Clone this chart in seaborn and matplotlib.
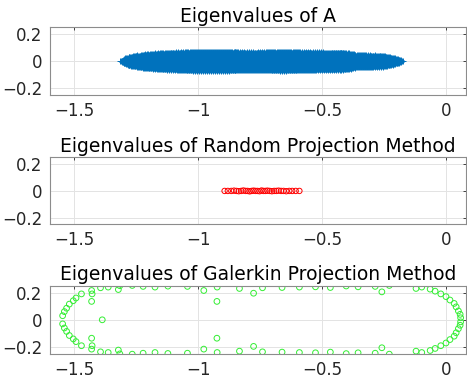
import numpy as np
import pandas as pd
import matplotlib
matplotlib.use('Agg')
import matplotlib.pyplot as plt
import seaborn as sns

# Eigenvalues of A: a dense cloud, described by its outline
# (real part, half-width of the imaginary spread)
cloud_re = [-1.317, -1.300, -1.274, -1.220, -1.153, -1.020, -0.884, -0.790,
            -0.655, -0.521, -0.413, -0.380, -0.359, -0.319, -0.252, -0.211,
            -0.185, -0.172]
cloud_im = [0.000, 0.018, 0.033, 0.050, 0.060, 0.070, 0.070, 0.065,
            0.070, 0.065, 0.063, 0.056, 0.045, 0.045, 0.040, 0.025,
            0.010, 0.000]

# Eigenvalues of the random projection method (all near the real axis)
rand_re = [-0.893, -0.880, -0.866, -0.855, -0.845, -0.836, -0.826, -0.817,
           -0.808, -0.800, -0.792, -0.784, -0.776, -0.768, -0.760, -0.752,
           -0.744, -0.736, -0.728, -0.720, -0.711, -0.702, -0.693, -0.684,
           -0.675, -0.665, -0.655, -0.644, -0.632, -0.620, -0.606, -0.591]
rand_im = [0.000, 0.000, 0.000, 0.002, 0.000, -0.002, 0.000, 0.003,
           0.000, 0.000, -0.003, 0.000, 0.002, 0.000, 0.000, -0.002,
           0.003, 0.000, 0.000, 0.002, 0.000, -0.002, 0.000, 0.000,
           0.002, 0.000, 0.000, -0.002, 0.000, 0.000, 0.000, 0.000]

# Eigenvalues of the Galerkin projection method: real ones, then the upper
# half of the conjugate pairs
gal_real = [-1.387]
gal_pair_re = [-1.547, -1.540, -1.531, -1.520, -1.504, -1.493, -1.471,
               -1.430, -1.428, -1.430, -1.394, -1.363, -1.322, -1.316,
               -1.266, -1.222, -1.174, -1.122, -1.043, -0.977, -0.923,
               -0.924, -0.833, -0.776, -0.740, -0.661, -0.591, -0.526,
               -0.466, -0.402, -0.354, -0.285, -0.258, -0.228, -0.120,
               -0.097, -0.063, -0.043, -0.020, 0.001, 0.017, 0.034,
               0.042, 0.051, 0.058, 0.060]
gal_pair_im = [0.030, 0.060, 0.085, 0.115, 0.140, 0.160, 0.190,
               0.215, 0.190, 0.135, 0.235, 0.240, 0.222, 0.250,
               0.252, 0.245, 0.240, 0.247, 0.245, 0.215, 0.240,
               0.135, 0.230, 0.195, 0.235, 0.237, 0.240, 0.242,
               0.237, 0.248, 0.242, 0.245, 0.205, 0.252, 0.230,
               0.240, 0.225, 0.210, 0.190, 0.170, 0.145, 0.120,
               0.095, 0.065, 0.040, 0.015]

titles = ['Eigenvalues of A',
          'Eigenvalues of Random Projection Method',
          'Eigenvalues of Galerkin Projection Method']

# Fill the outline of A's spectrum with a regular lattice of points
col_re = np.arange(cloud_re[0], cloud_re[-1] + 1e-9, 0.004)
pts = []
for k, re in enumerate(col_re):
    h = np.interp(re, cloud_re, cloud_im)
    shift = 0.003 * (k % 2)
    for im in np.arange(-h + shift, h + 1e-9, 0.006):
        pts.append((re, im))
df_a = pd.DataFrame(pts, columns=['re', 'im'])

df_r = pd.DataFrame({'re': rand_re, 'im': rand_im})

gal_re = np.concatenate([gal_real, gal_pair_re, gal_pair_re])
gal_im = np.concatenate([np.zeros(len(gal_real)), gal_pair_im, -np.array(gal_pair_im)])
df_g = pd.DataFrame({'re': gal_re, 'im': gal_im})

sns.set_theme(style='white')
plt.rcParams['font.family'] = ['DejaVu Sans']
plt.rcParams['axes.unicode_minus'] = True

fig = plt.figure(figsize=(4.67, 3.83), dpi=100)
rects = [[0.106, 0.752, 0.892, 0.177],
         [0.106, 0.414, 0.892, 0.175],
         [0.106, 0.076, 0.892, 0.178]]
axes = [fig.add_axes(r) for r in rects]

sns.scatterplot(data=df_a, x='re', y='im', ax=axes[0], marker='+',
                color='#0072BD', s=18, linewidth=0.7)
sns.scatterplot(data=df_r, x='re', y='im', ax=axes[1], marker='o',
                facecolor='none', edgecolor='#FF0000', color='#FF0000',
                s=15, linewidth=0.7)
sns.scatterplot(data=df_g, x='re', y='im', ax=axes[2], marker='o',
                facecolor='none', edgecolor='#33EE33', color='#33EE33',
                s=17, linewidth=0.7)

for ax, title in zip(axes, titles):
    ax.set_xlim(-1.6, 0.082)
    ax.set_ylim(-0.25, 0.25)
    ax.set_xticks([-1.5, -1, -0.5, 0])
    ax.set_xticklabels(['\u22121.5', '\u22121', '\u22120.5', '0'])
    ax.set_yticks([-0.2, 0, 0.2])
    ax.set_yticklabels(['\u22120.2', '0', '0.2'])
    ax.set_xlabel('')
    ax.set_ylabel('')
    ax.grid(True, color='#e3e3e3', linewidth=0.7)
    ax.set_axisbelow(True)
    for sp in ax.spines.values():
        sp.set_color('#8c8c8c')
        sp.set_linewidth(0.8)
    ax.tick_params(direction='in', length=2.5, width=0.6, colors='#262626',
                   labelsize=12, top=True, right=True, pad=5)
    ax.set_title(title, fontsize=13.5, color='#000000', pad=4)

fig.savefig('out.png', dpi=100)
